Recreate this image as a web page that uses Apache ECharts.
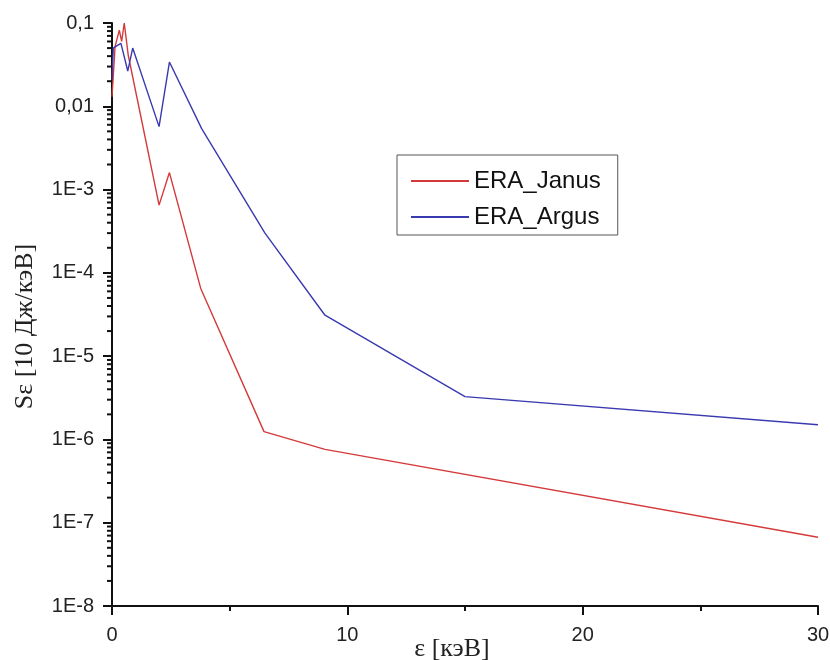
<!DOCTYPE html>
<html>
<head>
<meta charset="utf-8">
<script src="https://cdn.jsdelivr.net/npm/echarts@6/dist/echarts.min.js"></script>
<style>
html,body{margin:0;padding:0;background:#fff;}
#chart{width:830px;height:660px;}
</style>
</head>
<body>
<div id="chart"></div>
<script>
// ---- data ----
var janusX = [0, 0.13, 0.31, 0.41, 0.52, 0.69, 2.0, 2.44, 3.77, 6.46, 9.05, 30];
var janusY = [0.013, 0.052, 0.082, 0.060, 0.1, 0.041, 6.5e-4, 1.6e-3, 6.5e-5, 1.24e-6, 7.6e-7, 6.7e-8];
var argusX = [0, 0.055, 0.2, 0.38, 0.67, 0.88, 2.0, 2.44, 3.81, 6.5, 9.05, 15.0, 30];
var argusY = [0.021, 0.050, 0.053, 0.057, 0.0265, 0.050, 0.0057, 0.034, 0.0054, 3.0e-4, 3.1e-5, 3.27e-6, 1.5e-6];
var seriesNames = ['ERA_Janus', 'ERA_Argus'];
var yTickLabels = {'0.1': '0,1', '0.01': '0,01'};
var xTitle = 'ε [кэВ]';
var yTitle = 'Sε [10 Дж/кэВ]';

function pairs(xs, ys) { return xs.map(function (x, i) { return [x, ys[i]]; }); }

// minor tick positions of the log axis (2..9 times each decade)
var minorVals = [];
for (var e = -8; e <= -2; e++) {
  for (var k = 2; k <= 9; k++) minorVals.push([0, k * Math.pow(10, e)]);
}

var chart = echarts.init(document.getElementById('chart'));
chart.setOption({
  animation: false,
  backgroundColor: '#ffffff',
  grid: {left: 112, right: 12, top: 23, bottom: 54, containLabel: false, outerBoundsMode: 'none'},
  legend: {
    data: seriesNames,
    orient: 'vertical',
    left: 397, top: 155,
    padding: [14, 17, 6, 14],
    itemGap: 12,
    itemWidth: 58,
    itemHeight: 2,
    icon: 'rect',
    borderColor: '#555',
    borderWidth: 1,
    backgroundColor: '#fff',
    textStyle: {fontFamily: 'Liberation Sans', fontSize: 24, color: '#111'}
  },
  xAxis: {
    type: 'value', min: 0, max: 30, interval: 10,
    name: xTitle, nameLocation: 'middle', nameGap: 30, nameMoveOverlap: false,
    nameTextStyle: {fontFamily: 'Liberation Serif', fontSize: 26, color: '#222', padding: [0, 26, 0, 0]},
    axisLine: {lineStyle: {color: '#111', width: 2}},
    axisTick: {length: 9, lineStyle: {color: '#111', width: 2}},
    minorTick: {show: true, splitNumber: 2, length: 5, lineStyle: {color: '#111', width: 2}},
    axisLabel: {margin: 19, fontFamily: 'Liberation Sans', fontSize: 20, color: '#222'},
    splitLine: {show: false}
  },
  yAxis: {
    type: 'log', logBase: 10, min: 1e-8, max: 0.1,
    name: yTitle, nameLocation: 'middle', nameGap: 74, nameMoveOverlap: false,
    nameTextStyle: {fontFamily: 'Liberation Serif', fontSize: 26, color: '#222', padding: [0, 24, 0, 0]},
    axisLine: {lineStyle: {color: '#111', width: 2}},
    axisTick: {length: 9, lineStyle: {color: '#111', width: 2}},
    axisLabel: {
      margin: 18, fontFamily: 'Liberation Sans', fontSize: 20, color: '#222',
      formatter: function (v) {
        var key = String(+v.toPrecision(6));
        if (yTickLabels[key]) return yTickLabels[key];
        return '1E' + Math.round(Math.log10(v));
      }
    },
    splitLine: {show: false}
  },
  series: [
    {
      name: seriesNames[0], type: 'line', data: pairs(janusX, janusY),
      symbol: 'none', lineStyle: {color: '#d53a3a', width: 1.4}, itemStyle: {color: '#d53a3a'}
    },
    {
      name: seriesNames[1], type: 'line', data: pairs(argusX, argusY),
      symbol: 'none', lineStyle: {color: '#3a3ab0', width: 1.4}, itemStyle: {color: '#3a3ab0'}
    },
    {
      name: 'yMinorTicks', type: 'custom', silent: true, clip: false,
      data: minorVals,
      renderItem: function (params, api) {
        var p = api.coord([0, api.value(1)]);
        return {
          type: 'line',
          shape: {x1: p[0] - 5, y1: p[1], x2: p[0], y2: p[1]},
          style: {stroke: '#111', lineWidth: 2}
        };
      }
    }
  ]
});
</script>
</body>
</html>
